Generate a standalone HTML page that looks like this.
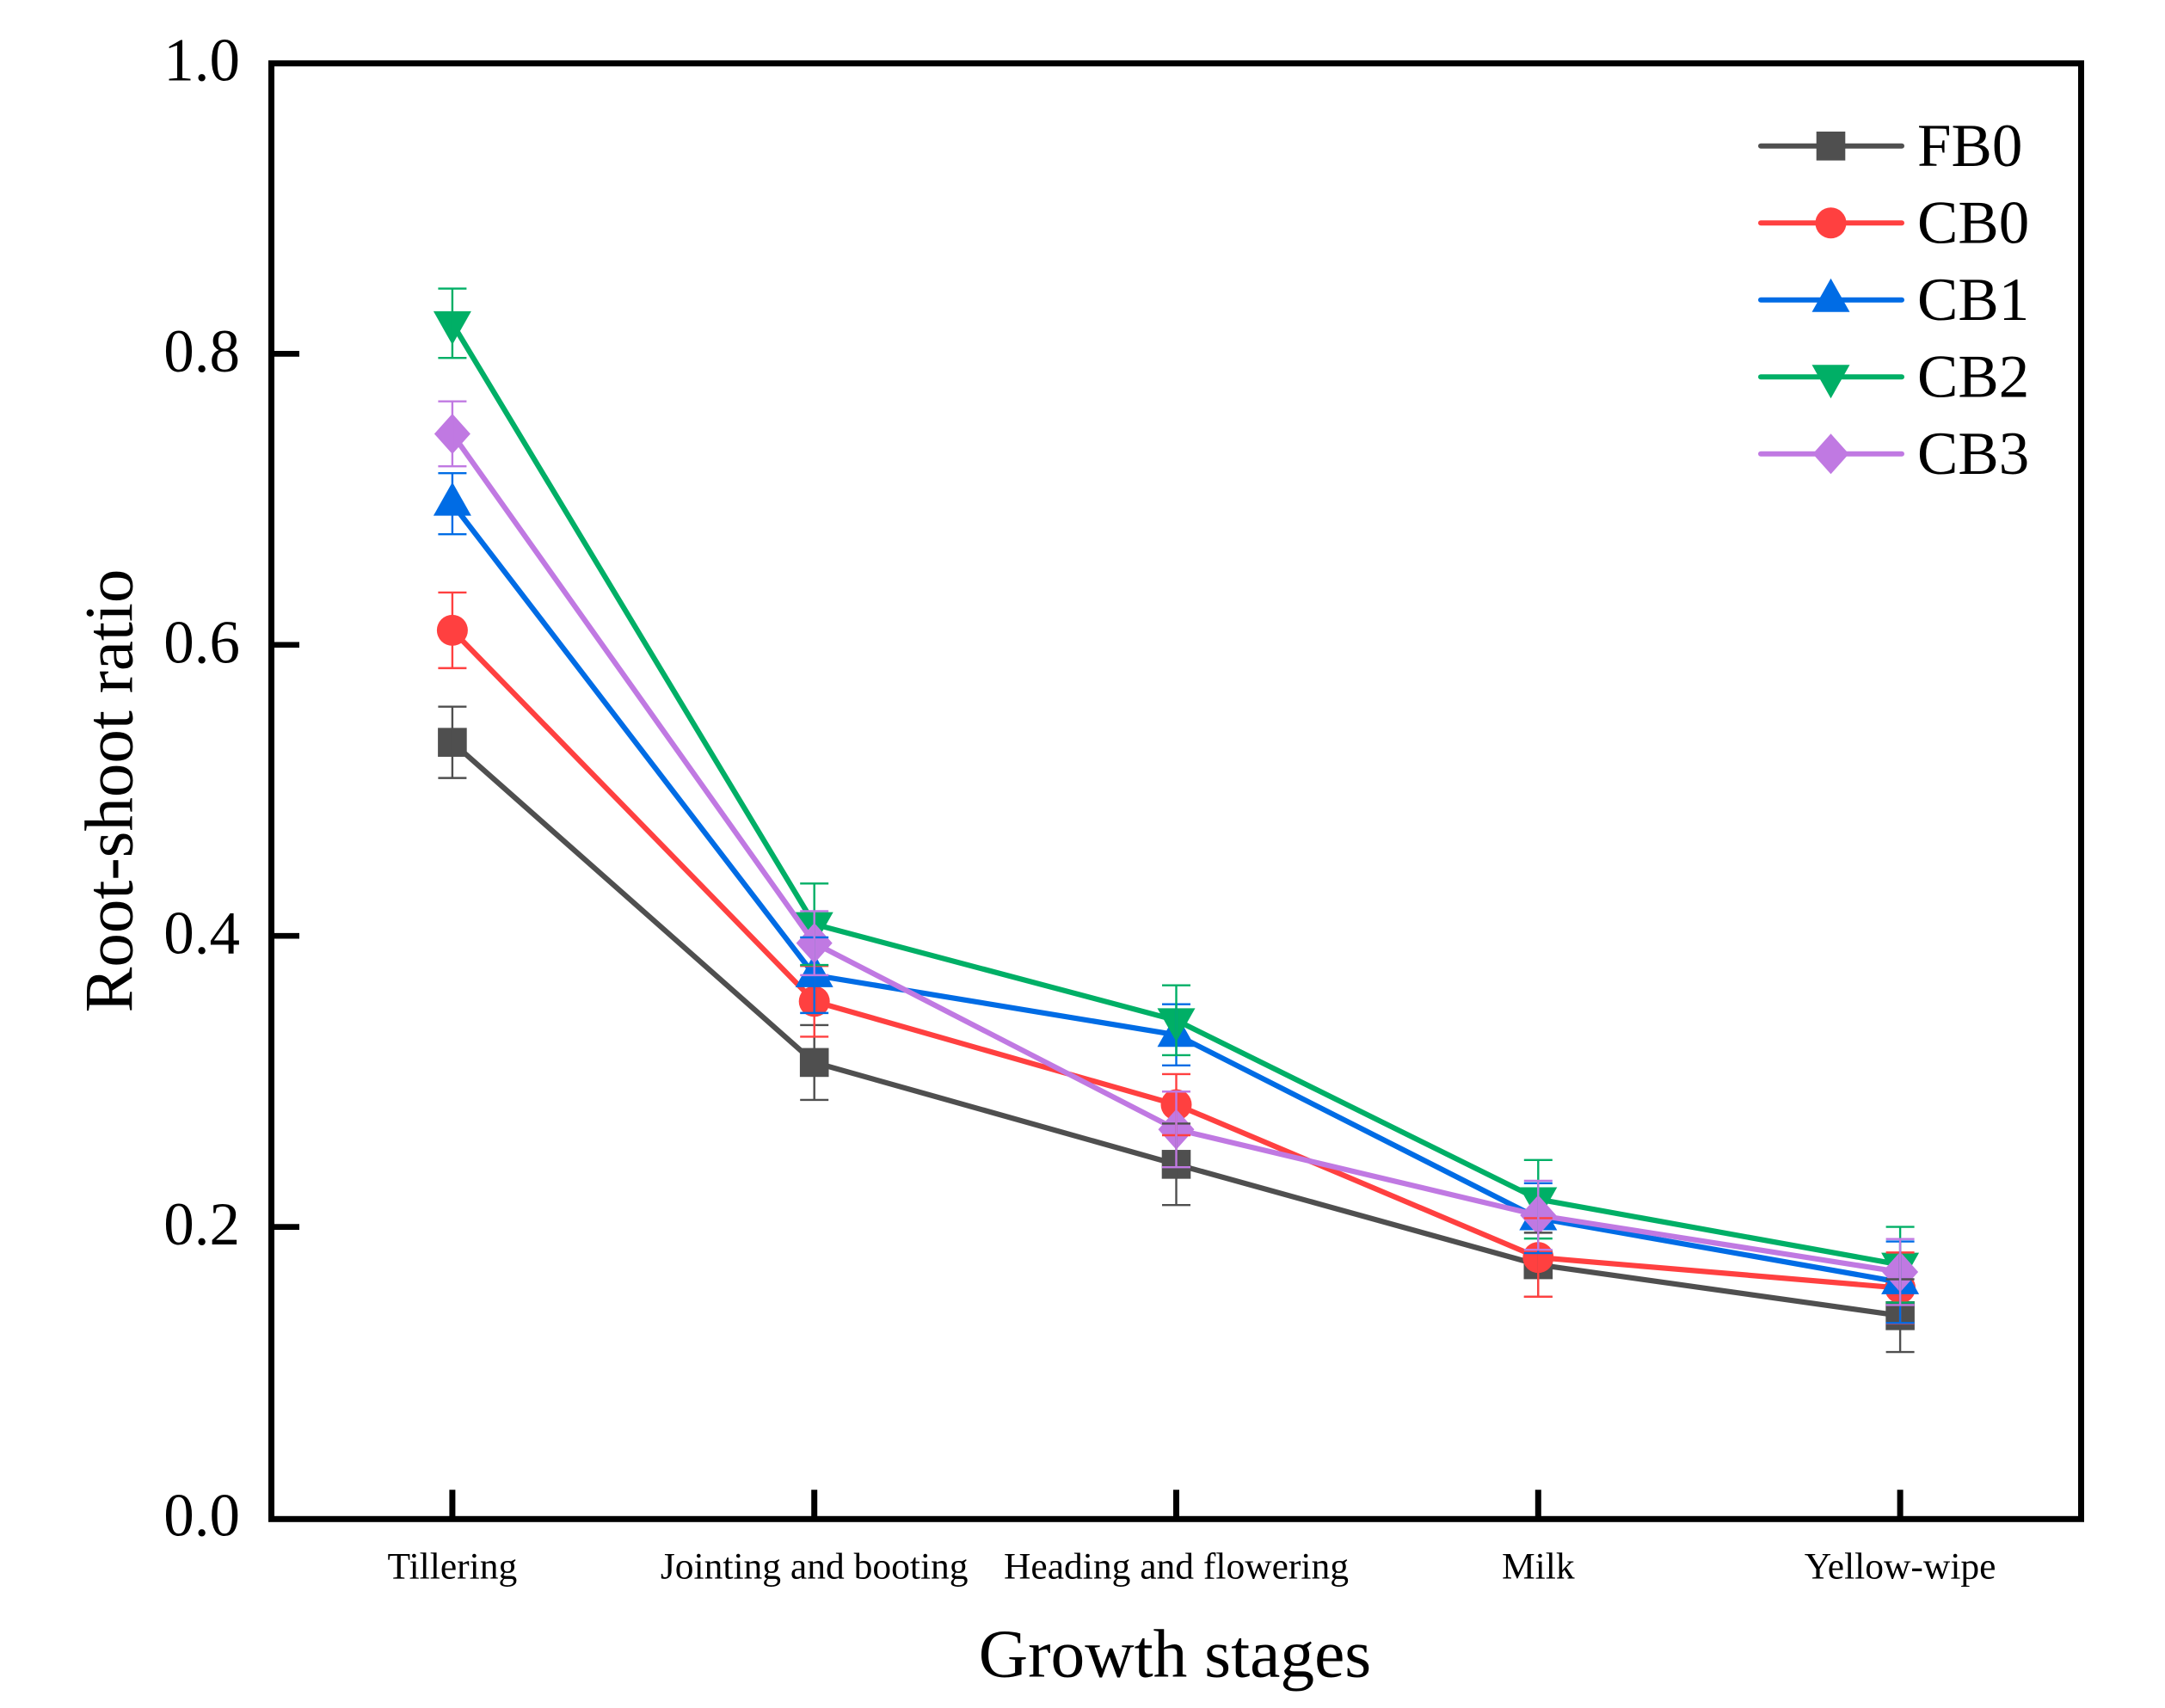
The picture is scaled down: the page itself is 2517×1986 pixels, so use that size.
<!DOCTYPE html>
<html lang="en">
<head>
<meta charset="utf-8">
<title>Root-shoot ratio by growth stage</title>
<style>
html,body{margin:0;padding:0;background:#fff;}
svg{display:block;font-family:"Liberation Serif",serif;fill:#000;}
</style>
</head>
<body>
<svg id="chart" xmlns="http://www.w3.org/2000/svg" width="2517" height="1986" viewBox="0 0 2517 1986"></svg>
<script>
// ---- data ----
const categories = ["Tillering", "Jointing and booting", "Heading and flowering", "Milk", "Yellow-wipe"];
const yTickValues = [0, 0.2, 0.4, 0.6, 0.8, 1.0];
const yTickLabels = ["0.0", "0.2", "0.4", "0.6", "0.8", "1.0"];
const seriesNames = ["FB0", "CB0", "CB1", "CB2", "CB3"];
const fb0Values = [0.533, 0.313, 0.243, 0.174, 0.139];
const cb0Values = [0.610, 0.355, 0.284, 0.179, 0.158];
const cb1Values = [0.697, 0.373, 0.332, 0.206, 0.162];
const cb2Values = [0.821, 0.408, 0.342, 0.219, 0.174];
const cb3Values = [0.745, 0.395, 0.267, 0.208, 0.169];
const fb0Errors = [0.0245, 0.0257, 0.028, 0.022, 0.025];
const cb0Errors = [0.026, 0.0243, 0.021, 0.027, 0.0244];
const cb1Errors = [0.021, 0.026, 0.021, 0.024, 0.028];
const cb2Errors = [0.0238, 0.028, 0.024, 0.027, 0.026];
const cb3Errors = [0.0223, 0.022, 0.026, 0.0237, 0.0227];

const allValues = [fb0Values, cb0Values, cb1Values, cb2Values, cb3Values];
const allErrors = [fb0Errors, cb0Errors, cb1Errors, cb2Errors, cb3Errors];
const seriesColors = ["#4f4f4f", "#ff4040", "#006ce5", "#00af66", "#c079e2"];
const seriesShapes = ["square", "circle", "up", "down", "diamond"];

// ---- layout ----
const plotLeft = 315.5, plotRight = 2419.5, frameTop = 73.7, frameBottom = 1766.3;
const scaleTop = 73, scaleBottom = 1765;
const xMin = 0.5, xMax = 5.5, yMin = 0, yMax = 1;
function xScale(i) { return plotLeft + ((i + 1) - xMin) / (xMax - xMin) * (plotRight - plotLeft); }
function yScale(v) { return scaleBottom - (v - yMin) / (yMax - yMin) * (scaleBottom - scaleTop); }

const svg = document.getElementById('chart');
const NS = 'http://www.w3.org/2000/svg';
function make(tag, attrs, parent, text) {
  const node = document.createElementNS(NS, tag);
  for (const k in attrs) node.setAttribute(k, attrs[k]);
  if (text !== undefined) node.textContent = text;
  (parent || svg).appendChild(node);
  return node;
}
function drawMarker(shape, cx, cy, color, parent) {
  if (shape === 'square') return make('rect', {x: cx - 16.8, y: cy - 16.8, width: 33.6, height: 33.6, fill: color}, parent);
  if (shape === 'circle') return make('circle', {cx: cx, cy: cy, r: 18, fill: color}, parent);
  let pts;
  if (shape === 'up') pts = [[cx, cy - 25], [cx + 22, cy + 14], [cx - 22, cy + 14]];
  else if (shape === 'down') pts = [[cx, cy + 25], [cx + 22, cy - 14], [cx - 22, cy - 14]];
  else pts = [[cx, cy - 23.5], [cx + 21, cy], [cx, cy + 23.5], [cx - 21, cy]];
  return make('polygon', {points: pts.map(p => p.join(',')).join(' '), fill: color}, parent);
}

// ---- series lines + markers ----
seriesNames.forEach((name, s) => {
  const group = make('g', {});
  
  
  const pts = allValues[s].map((v, i) => xScale(i) + ',' + yScale(v)).join(' ');
  const line = make('polyline', {points: pts, fill: 'none', stroke: seriesColors[s], 'stroke-width': 6.2, 'stroke-linejoin': 'round'}, group);
  
  
  allValues[s].forEach((v, i) => {
    const m = drawMarker(seriesShapes[s], xScale(i), yScale(v), seriesColors[s], group);
    
    
  });
});

// ---- error bars (on top of all markers) ----
seriesNames.forEach((name, s) => {
  const group = make('g', {stroke: seriesColors[s], 'stroke-width': 2.4, fill: 'none'});
  
  
  allValues[s].forEach((v, i) => {
    const x = xScale(i), hi = yScale(v + allErrors[s][i]), lo = yScale(v - allErrors[s][i]);
    const bar = make('path', {d: 'M' + x + ' ' + hi + 'V' + lo + 'M' + (x - 16.5) + ' ' + hi + 'H' + (x + 16.5) + 'M' + (x - 16.5) + ' ' + lo + 'H' + (x + 16.5)}, group);
    
    
  });
});

// ---- frame + ticks ----
const frame = make('rect', {x: plotLeft, y: frameTop, width: plotRight - plotLeft, height: frameBottom - frameTop, fill: 'none', stroke: '#000', 'stroke-width': 7});



yTickValues.forEach((v, i) => {
  const y = yScale(v);
  if (v > yMin && v < yMax) {
    const t = make('line', {x1: plotLeft, x2: plotLeft + 32.5, y1: y, y2: y, stroke: '#000', 'stroke-width': 6.7});
    
    
  }
  const label = make('text', {x: 279, y: y + 20.5, 'text-anchor': 'end', 'font-size': 71}, svg, yTickLabels[i]);
  
  
});

categories.forEach((c, i) => {
  const x = xScale(i);
  const t = make('line', {x1: x, x2: x, y1: frameBottom, y2: frameBottom - 34, stroke: '#000', 'stroke-width': 7});
  
  
  const label = make('text', {x: x, y: 1835.5, 'text-anchor': 'middle', 'font-size': 43.5}, svg, c);
  
  
});

// ---- axis titles ----
const xTitle = make('text', {x: 1366, y: 1949.5, 'text-anchor': 'middle', 'font-size': 79.4}, svg, 'Growth stages');


const yTitle = make('text', {transform: 'translate(153.5 919.5) rotate(-90)', 'text-anchor': 'middle', 'font-size': 79}, svg, 'Root-shoot ratio');



// ---- legend ----
const legend = make('g', {});


seriesNames.forEach((name, s) => {
  const ly = 169.8 + s * 89.5;
  const entry = make('g', {}, legend);
  
  
  make('line', {x1: 2047, x2: 2211, y1: ly, y2: ly, stroke: seriesColors[s], 'stroke-width': 6, 'stroke-linecap': 'round'}, entry);
  drawMarker(seriesShapes[s], 2128.5, ly, seriesColors[s], entry);
  make('text', {x: 2229, y: ly + 23, 'font-size': 71}, entry, name);
});
</script>
</body>
</html>
